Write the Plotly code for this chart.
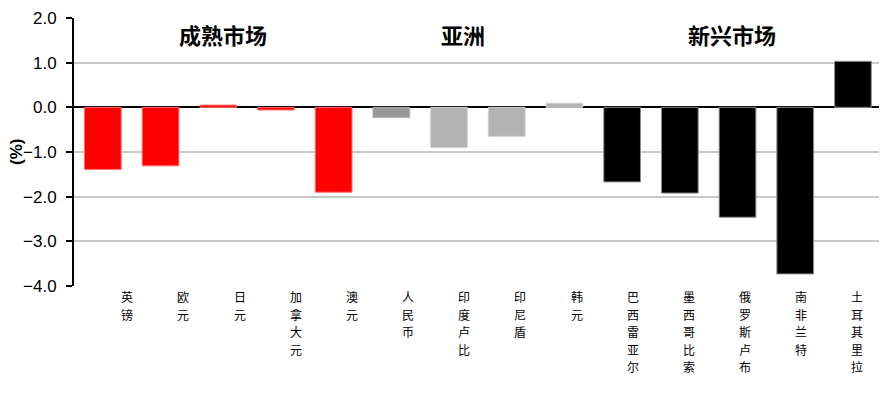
import plotly.graph_objects as go

categories = ["英镑", "欧元", "日元", "加拿大元", "澳元", "人民币", "印度卢比",
              "印尼盾", "韩元", "巴西雷亚尔", "墨西哥比索", "俄罗斯卢布", "南非兰特", "土耳其里拉"]
values = [-1.39, -1.31, 0.05, -0.06, -1.90, -0.23, -0.90,
          -0.65, 0.09, -1.67, -1.92, -2.46, -3.73, 1.03]
groups = ["成熟市场"] * 5 + ["亚洲"] * 4 + ["新兴市场"] * 5
group_label_pos = {"成熟市场": 2.09, "亚洲": 6.25, "新兴市场": 10.9}
yticks = [-4, -3, -2, -1, 0, 1, 2]

fill = {"成熟市场": "#FF0000", "亚洲": "#B2B2B2", "新兴市场": "#000000"}
edge = {"成熟市场": "#FF7070", "亚洲": "#CFCFCF", "新兴市场": "#8A8A8A"}
colors = [fill[g] for g in groups]
colors[5] = "#999999"
edges = [edge[g] for g in groups]
edges[5] = "#B0B0B0"

idx = list(range(len(categories)))
n = len(categories)

fig = go.Figure()
fig.add_trace(go.Bar(x=idx, y=values, marker=dict(color=colors, line=dict(color=edges, width=1)),
                     width=0.636, showlegend=False, hoverinfo="skip"))

cjk = "Noto Sans CJK SC"
annotations = []
# category labels, stacked vertically one character per line
label_band = (0.031, 0.9994)
pitch = 17.6
for i, name in enumerate(categories):
    xp = label_band[0] + (i + 0.5) / n * (label_band[1] - label_band[0])
    for j, ch in enumerate(name):
        annotations.append(dict(x=xp, xref="paper", y=0, yref="paper", yanchor="top",
                                xanchor="center", yshift=-(1 + j * pitch), text=ch,
                                showarrow=False, borderpad=0,
                                font=dict(family=cjk, size=12, color="#000000")))
for g, pos in group_label_pos.items():
    annotations.append(dict(x=pos, xref="x", y=2.0, yref="y", yanchor="middle", yshift=-16,
                            text="<b>%s</b>" % g, showarrow=False,
                            font=dict(family=cjk, size=22, color="#000000")))
annotations.append(dict(x=0, xref="paper", y=0.5, yref="paper", xanchor="center", xshift=-58,
                        textangle=-90, text="<b>(%)</b>", showarrow=False,
                        font=dict(family="Liberation Sans", size=17, color="#000000")))

fig.update_layout(
    width=879, height=385,
    margin=dict(l=66, r=1, t=10, b=107),
    paper_bgcolor="white", plot_bgcolor="white",
    bargap=0.364,
    xaxis=dict(range=[-0.5, 13.5], domain=[0, 0.9948], showticklabels=False, ticks="",
               showgrid=False, zeroline=False, showline=False, fixedrange=True),
    yaxis=dict(range=[-4, 2], tickvals=yticks, tickformat=".1f",
               showgrid=True, gridcolor="#C8C8C8", gridwidth=1.5,
               zeroline=True, zerolinecolor="#000000", zerolinewidth=2,
               showline=True, linecolor="#000000", linewidth=2,
               ticks="outside", ticklen=6, tickwidth=2, tickcolor="#000000",
               ticklabelstandoff=6,
               tickfont=dict(family="Liberation Sans", size=17, color="#000000")),
    annotations=annotations,
)

fig.write_html("out.html")
